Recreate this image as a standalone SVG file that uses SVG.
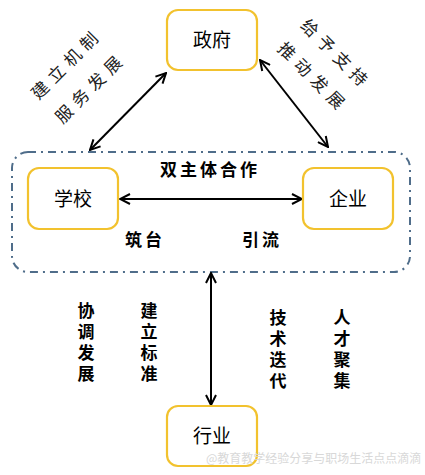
<svg xmlns="http://www.w3.org/2000/svg" width="425" height="475" viewBox="0 0 425 475">
<defs>
<style>
.box{fill:#fff;stroke:#f2c22e;stroke-width:2.2}
.lbl{font-family:"Noto Sans CJK SC","Liberation Sans",sans-serif;font-size:19px;fill:#000;text-anchor:middle}
.bold{font-family:"Noto Sans CJK SC","Liberation Sans",sans-serif;font-size:17px;font-weight:700;fill:#000;text-anchor:middle}
.rot{font-family:"Noto Sans CJK SC","Liberation Sans",sans-serif;font-size:17px;fill:#222;text-anchor:middle;letter-spacing:6px}
.con{stroke:#000;stroke-width:2;fill:none}
.wm{font-family:"Noto Sans CJK SC","Liberation Sans",sans-serif;font-size:12px;fill:#d8d8d8}
</style>
<marker id="ah" viewBox="0 0 12 12" refX="11" refY="6" markerWidth="12" markerHeight="12" markerUnits="userSpaceOnUse" orient="auto-start-reverse">
<path d="M1,1 L11,6 L1,11" fill="none" stroke="#000" stroke-width="2"/>
</marker>
</defs>
<rect width="425" height="475" fill="#fff"/>
<g id="container">
<rect x="12" y="152" width="398" height="120" rx="16" fill="none" stroke="#4f6d8a" stroke-width="2" stroke-dasharray="8 5 2 5"/>
<text class="bold" x="210" y="176" letter-spacing="3">双主体合作</text>
</g>
<g id="connectors">
<line class="con" x1="166" y1="73" x2="90" y2="150" marker-start="url(#ah)" marker-end="url(#ah)"/>
<line class="con" x1="260" y1="60" x2="328" y2="147" marker-start="url(#ah)" marker-end="url(#ah)"/>
<line class="con" x1="120" y1="199" x2="302" y2="199" marker-start="url(#ah)" marker-end="url(#ah)"/>
<line class="con" x1="211" y1="273" x2="211" y2="405" marker-start="url(#ah)" marker-end="url(#ah)"/>
</g>
<g id="gov">
<rect class="box" x="167" y="10" width="90" height="60" rx="11"/>
<text class="lbl" x="212" y="47">政府</text>
</g>
<g id="school">
<rect class="box" x="28" y="168" width="90" height="61" rx="11"/>
<text class="lbl" x="73" y="206">学校</text>
</g>
<g id="enterprise">
<rect class="box" x="303" y="168" width="90" height="61" rx="11"/>
<text class="lbl" x="348" y="206">企业</text>
</g>
<g id="industry">
<rect class="box" x="167" y="406" width="90" height="60" rx="11"/>
<text class="lbl" x="212" y="443">行业</text>
</g>
<g id="labels">
<text class="rot" transform="translate(71,68) rotate(-45)">建立机制</text>
<text class="rot" transform="translate(95,92) rotate(-45)">服务发展</text>
<text class="rot" transform="translate(332,59) rotate(45)">给予支持</text>
<text class="rot" transform="translate(309,82) rotate(45)">推动发展</text>
<text class="bold" x="145" y="246" letter-spacing="3">筑台</text>
<text class="bold" x="262" y="246" letter-spacing="3">引流</text>
<text class="bold" x="86" y="317">协</text><text class="bold" x="86" y="338">调</text><text class="bold" x="86" y="359">发</text><text class="bold" x="86" y="380">展</text>
<text class="bold" x="149" y="317">建</text><text class="bold" x="149" y="338">立</text><text class="bold" x="149" y="359">标</text><text class="bold" x="149" y="380">准</text>
<text class="bold" x="278" y="324">技</text><text class="bold" x="278" y="345">术</text><text class="bold" x="278" y="366">迭</text><text class="bold" x="278" y="387">代</text>
<text class="bold" x="342" y="324">人</text><text class="bold" x="342" y="345">才</text><text class="bold" x="342" y="366">聚</text><text class="bold" x="342" y="387">集</text>
<text class="wm" x="206" y="463">@教育教学经验分享与职场生活点点滴滴</text>
</g>
</svg>
